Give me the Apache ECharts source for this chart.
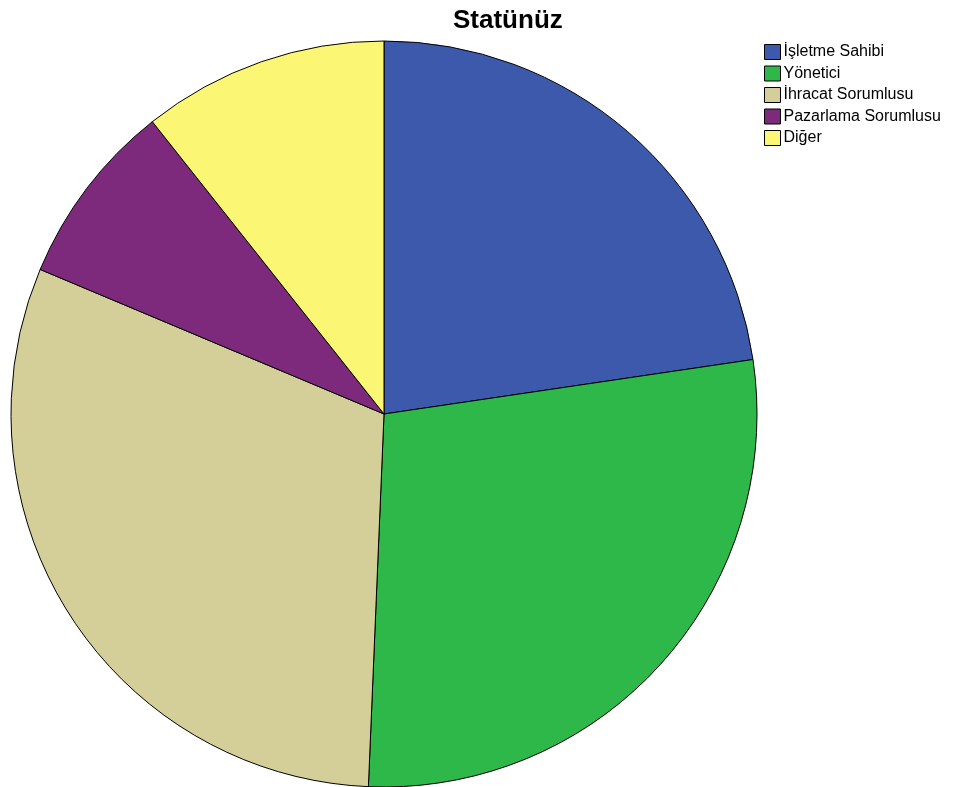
<!DOCTYPE html>
<html>
<head>
<meta charset="utf-8">
<script src="https://cdn.jsdelivr.net/npm/echarts@6/dist/echarts.min.js"></script>
<style>
  html, body { margin: 0; padding: 0; background: #fff; }
  #chart { width: 961px; height: 787px; }
</style>
</head>
<body>
<div id="chart"></div>
<script>
// Respondent status breakdown (counts)
const categories = ['İşletme Sahibi', 'Yönetici', 'İhracat Sorumlusu', 'Pazarlama Sorumlusu', 'Diğer'];
const counts = [17, 21, 23, 6, 8];
const colors = ['#3d59ab', '#2fb84a', '#d4cf99', '#7d2a7d', '#fbf775'];

const chart = echarts.init(document.getElementById('chart'), null, { renderer: 'canvas' });

chart.setOption({
  animation: false,
  backgroundColor: '#ffffff',
  title: {
    text: 'Statünüz',
    left: 448,
    top: 3,
    textStyle: {
      fontFamily: 'Liberation Sans, Arial, sans-serif',
      fontWeight: 'bold',
      fontSize: 26,
      color: '#000'
    }
  },
  legend: {
    orient: 'vertical',
    left: 759,
    top: 39,
    itemWidth: 16,
    itemHeight: 15,
    itemGap: 5.5,
    icon: 'rect',
    selectedMode: false,
    itemStyle: { borderColor: '#000', borderWidth: 1 },
    textStyle: {
      fontFamily: 'Liberation Sans, Arial, sans-serif',
      fontSize: 16,
      lineHeight: 15,
      color: '#000',
      padding: [0, 0, 0, -2]
    },
    data: categories
  },
  series: [{
    type: 'pie',
    center: [384, 414],
    radius: 373,
    startAngle: 90,
    clockwise: true,
    label: { show: false },
    labelLine: { show: false },
    emphasis: { disabled: true },
    itemStyle: { borderColor: '#000', borderWidth: 1 },
    data: categories.map((name, i) => ({
      name: name,
      value: counts[i],
      itemStyle: { color: colors[i] }
    }))
  }]
});
</script>
</body>
</html>
